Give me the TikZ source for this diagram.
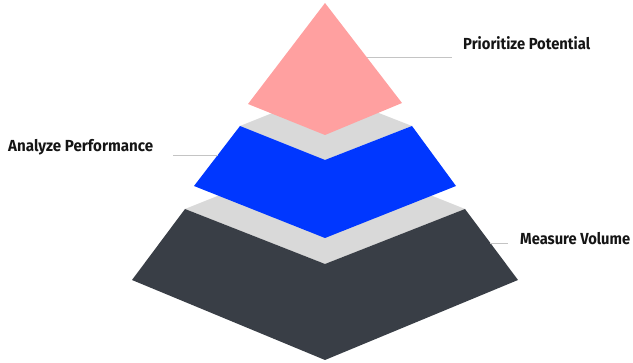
\documentclass[tikz,border=0pt]{standalone}
\usepackage{fontspec}
\setmainfont{Fira Sans}
\usepackage{graphicx}
\definecolor{pinkc}{HTML}{FFA0A0}
\definecolor{bluec}{HTML}{0037FF}
\definecolor{darkc}{HTML}{393E46}
\definecolor{grayc}{HTML}{D9D9D9}
\definecolor{linec}{HTML}{C4C4C4}
\definecolor{textc}{HTML}{151515}
\newcommand\fitw[2]{\resizebox{#1}{\height}{#2}}
\tikzset{
  lbl/.style={inner sep=0pt, font=\bfseries\fontsize{16}{19}\selectfont, text=textc},
  leader/.style={draw=linec, line width=0.8pt}
}
\begin{document}
\begin{tikzpicture}[x=1pt,y=-1pt]
\useasboundingbox (0,0) rectangle (633,363);
% bottom tier
\fill[grayc] (185,209) -- (325,153) -- (465,209) -- (325,264) -- cycle;
\fill[darkc] (185,209) -- (325,264) -- (325,360) -- (132,280) -- cycle;
\fill[darkc] (325,264) -- (465,209) -- (518,280) -- (325,360) -- cycle;
% middle tier
\fill[grayc] (240,126) -- (325,92) -- (412,126) -- (325,160) -- cycle;
\fill[bluec] (240,126) -- (325,160) -- (325,238) -- (194,186) -- cycle;
\fill[bluec] (325,160) -- (412,126) -- (456,186) -- (325,238) -- cycle;
% top tier
\fill[pinkc] (325,3) -- (248,104) -- (325,135) -- (402,103) -- cycle;
% labels
\node[lbl, anchor=west] (pp) at (463,43) {\fitw{127pt}{Prioritize Potential}};
\node[lbl, anchor=west] (ap) at (8,147) {\fitw{145pt}{Analyze Performance}};
\node[lbl, anchor=west] (mv) at (520,239) {\fitw{110pt}{Measure Volume}};
% leaders
\coordinate (p1) at (367,57); \coordinate (p2) at (452,57);
\coordinate (a1) at (173,155); \coordinate (a2) at (218,155);
\coordinate (m1) at (490,243); \coordinate (m2) at (508,243);
\draw[leader] (p1) -- (p2);
\draw[leader] (a1) -- (a2);
\draw[leader] (m1) -- (m2);
\end{tikzpicture}
\end{document}
